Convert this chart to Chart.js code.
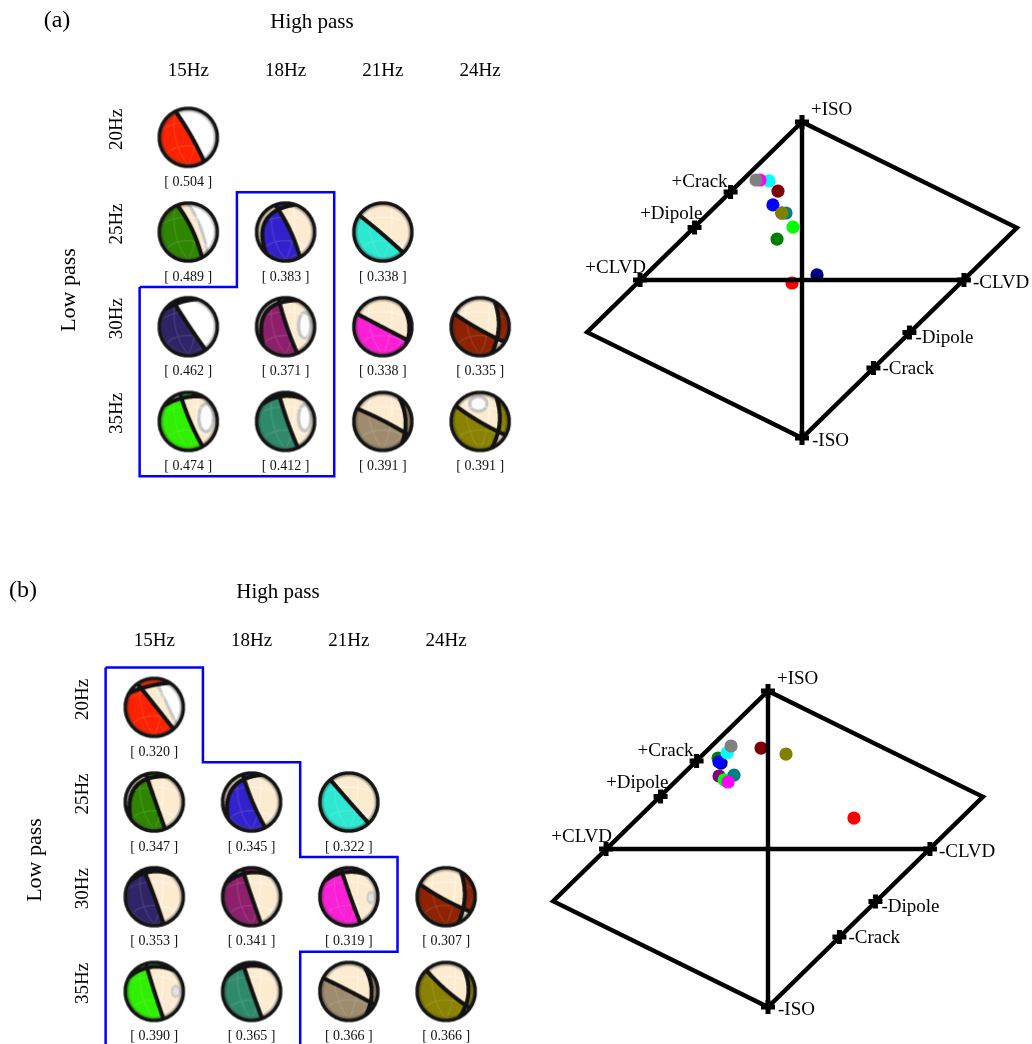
<!DOCTYPE html>
<html>
<head>
<meta charset="utf-8">
<script src="https://cdn.jsdelivr.net/npm/chart.js@4.4.1/dist/chart.umd.min.js"></script>
<style>
  html, body { margin: 0; padding: 0; overflow: hidden; background: #fff; width: 1032px; height: 1044px; }
  .panel { position: absolute; width: 1032px; height: 490px; }
  canvas { position: absolute; }
</style>
</head>
<body>
<div class="panel" style="left:0;top:0">
  <canvas id="gridA" width="540" height="490" style="left:0;top:0"></canvas>
  <canvas id="luneA" width="472" height="370" style="left:560px;top:90px"></canvas>
</div>
<div class="panel" style="left:-34px;top:570px">
  <canvas id="gridB" width="540" height="490" style="left:0;top:0"></canvas>
  <canvas id="luneB" width="472" height="370" style="left:560px;top:89px"></canvas>
</div>
<script>
// ---- filter grid ----
const highPass = ['15Hz', '18Hz', '21Hz', '24Hz'];
const lowPass = ['20Hz', '25Hz', '30Hz', '35Hz'];
const cellCol = [0, 0, 1, 2, 0, 1, 2, 3, 0, 1, 2, 3];
const cellRow = [0, 1, 1, 1, 2, 2, 2, 2, 3, 3, 3, 3];

// misfit of each inversion
const misfitA = [0.504, 0.489, 0.383, 0.338, 0.462, 0.371, 0.338, 0.335, 0.474, 0.412, 0.391, 0.391];
const misfitB = [0.320, 0.347, 0.345, 0.322, 0.353, 0.341, 0.319, 0.307, 0.390, 0.365, 0.366, 0.366];

// colours of each filter pair (sphere fill / lune marker)
const ballColors = ['#ff2200', '#2e8500', '#3322cc', '#2ee8d2', '#2f2468', '#8e1f6c',
                    '#fb1fd6', '#8f2200', '#2ef000', '#2f8a6b', '#9f8c6e', '#8a8200'];
const dotColors = ['#ff0000', '#008000', '#0000ff', '#00ffff', '#000080', '#800080',
                   '#ff00ff', '#800000', '#00ff00', '#008080', '#808080', '#808000'];

// radiation pattern outlines on the unit sphere view: nodal curves as
// [start, middle, end] points, ref = point inside the compressional lobe
const mechA = [
  { l1: [-0.44, -0.88, 0.12, 0.0, 0.54, 0.84], ref: [-0.5, 0.2], white: true },
  { l1: [-0.38, -0.91, 0.16, 0.0, 0.46, 0.89], ref: [-0.5, 0.2], arc: [0.0, -0.92, 0.4, -0.15, 0.62, 0.72], wref: [0.8, -0.2] },
  { l1: [-0.36, -0.91, 0.17, 0.0, 0.48, 0.88], l2: [-0.6, 0.78, -0.74, -0.1, 0.4, -0.9], ref: [-0.4, 0.3] },
  { l1: [-0.81, -0.58, 0.0, 0.08, 0.7, 0.71], ref: [-0.3, 0.5] },
  { l1: [-0.51, -0.86, 0.04, 0.0, 0.6, 0.8], l2: [-0.86, -0.5, -0.23, -0.8, 0.43, -0.9], ref: [-0.3, 0.4], white: true },
  { l1: [-0.24, -0.95, 0.04, 0.0, 0.4, 0.91], l2: [-0.7, 0.7, -0.76, -0.2, 0.5, -0.86], ref: [-0.4, 0.3], ell: [0.62, -0.04, 0.2, 0.42] },
  { l1: [-0.89, -0.45, 0.0, 0.02, 0.87, 0.47], l2: [0.5, -0.86, 0.86, 0.0, 0.7, 0.7], ref: [0.0, 0.5] },
  { l1: [-0.89, -0.46, 0.0, 0.1, 0.85, 0.52], l2: [0.44, -0.9, 0.6, 0.05, 0.33, 0.94], ref: [-0.3, 0.5] },
  { l1: [-0.28, -0.96, 0.06, 0.0, 0.5, 0.87], l2: [-0.89, -0.45, -0.33, -0.72, 0.61, -0.79], ref: [-0.3, 0.4], ell: [0.58, -0.12, 0.24, 0.45] },
  { l1: [-0.24, -0.97, 0.06, 0.0, 0.42, 0.9], l2: [-0.87, -0.48, -0.3, -0.78, 0.75, -0.66], ref: [-0.4, 0.3], ell: [0.62, -0.12, 0.2, 0.42] },
  { l1: [-0.9, -0.44, 0.0, -0.03, 0.88, 0.47], l2: [0.47, -0.88, 0.74, 0.05, 0.58, 0.81], ref: [-0.3, 0.5] },
  { l1: [-0.84, -0.54, 0.05, 0.05, 0.88, 0.47], l2: [0.5, -0.86, 0.63, 0.06, 0.33, 0.94], ref: [-0.4, 0.3], ell: [-0.06, -0.57, 0.28, 0.24] }
];
const mechB = [
  { l1: [-0.58, -0.81, 0.03, -0.05, 0.66, 0.75], l2: [-0.9, -0.43, -0.2, -0.68, 0.6, -0.8], ref: [-0.4, 0.4], arc: [0.05, -0.85, 0.32, -0.3, 0.72, 0.55], wref: [0.8, -0.2] },
  { l1: [-0.29, -0.96, 0.04, 0.0, 0.37, 0.93], l2: [-0.75, 0.66, -0.72, -0.3, 0.55, -0.83], ref: [-0.4, 0.3] },
  { l1: [-0.3, -0.95, 0.03, 0.0, 0.47, 0.88], l2: [-0.75, 0.66, -0.74, -0.2, 0.45, -0.89], ref: [-0.4, 0.3] },
  { l1: [-0.64, -0.77, 0.0, -0.03, 0.68, 0.73], ref: [-0.3, 0.5] },
  { l1: [-0.37, -0.93, 0.0, 0.0, 0.32, 0.95], l2: [-0.92, -0.39, -0.23, -0.79, 0.78, -0.63], ref: [-0.4, 0.3] },
  { l1: [-0.32, -0.95, 0.0, 0.0, 0.33, 0.94], l2: [-0.93, -0.37, -0.25, -0.75, 0.77, -0.64], ref: [-0.4, 0.3] },
  { l1: [-0.27, -0.96, 0.05, 0.0, 0.4, 0.92], l2: [-0.9, -0.44, -0.25, -0.77, 0.75, -0.66], ref: [-0.3, 0.4], blob: [0.72, 0.03, 0.15, 0.22] },
  { l1: [-0.9, -0.44, 0.0, 0.12, 0.86, 0.51], l2: [0.45, -0.89, 0.6, 0.05, 0.35, 0.94], ref: [-0.4, 0.4] },
  { l1: [-0.29, -0.96, 0.0, 0.0, 0.32, 0.95], l2: [-0.93, -0.37, -0.3, -0.75, 0.78, -0.62], ref: [-0.4, 0.3], blob: [0.7, 0.0, 0.16, 0.22] },
  { l1: [-0.3, -0.95, 0.02, 0.0, 0.36, 0.93], l2: [-0.93, -0.37, -0.3, -0.78, 0.75, -0.66], ref: [-0.4, 0.3] },
  { l1: [-0.89, -0.46, 0.0, -0.02, 0.89, 0.46], l2: [0.45, -0.89, 0.74, 0.05, 0.5, 0.87], ref: [-0.3, 0.5] },
  { l1: [-0.68, -0.73, 0.0, -0.04, 0.82, 0.57], l2: [0.5, -0.87, 0.72, 0.1, 0.35, 0.94], ref: [-0.4, 0.3] }
];

// preferred-solution outline, in grid cell units [column, row]
const outlineA = [[-0.5, 1.58], [0.5, 1.58], [0.5, 0.58], [1.5, 0.58], [1.5, 3.58], [-0.5, 3.58], [-0.5, 1.58]];
const outlineB = [[-0.5, -0.42], [0.5, -0.42], [0.5, 0.58], [1.5, 0.58], [1.5, 1.58], [2.5, 1.58],
                  [2.5, 2.58], [1.5, 2.58], [1.5, 3.58], [-0.5, 3.58], [-0.5, -0.42]];

// ---- source-type lune ----
const luneCornerX = [0, 1.36, 0, -1.36];
const luneCornerY = [1, 0.33, -1, -0.33];
const refNames = ['+ISO', '+Crack', '+Dipole', '+CLVD', '-CLVD', '-Dipole', '-Crack', '-ISO'];
const refX = [0, -0.452, -0.68, -1.025, 1.025, 0.68, 0.452, 0];
const refY = [1, 0.557, 0.332, 0, 0, -0.332, -0.557, -1];

const luneAx = [-0.063, -0.158, -0.184, -0.209, 0.095, -0.127, -0.266, -0.152, -0.057, -0.101, -0.291, -0.127];
const luneAy = [-0.019, 0.259, 0.475, 0.627, 0.032, 0.424, 0.633, 0.563, 0.335, 0.424, 0.633, 0.424];
const luneBx = [0.544, -0.316, -0.310, -0.259, -0.297, -0.310, -0.253, -0.044, -0.278, -0.215, -0.234, 0.114];
const luneBy = [0.196, 0.576, 0.551, 0.608, 0.544, 0.462, 0.424, 0.639, 0.437, 0.468, 0.652, 0.601];
const drawOrderA = [0, 1, 2, 3, 4, 5, 6, 7, 8, 9, 10, 11];
const drawOrderB = [0, 1, 4, 2, 3, 5, 8, 9, 6, 7, 10, 11];

const SERIF = "'Liberation Serif','Times New Roman',Times,serif";

// ---------- sphere rendering ----------
function bentCurve(p) {
  const [x1, y1, xm, ym, x2, y2] = p;
  const mx = (x1 + x2) / 2, my = (y1 + y2) / 2;
  let ex = x2 - x1, ey = y2 - y1;
  const half = Math.hypot(ex, ey) / 2;
  ex /= 2 * half; ey /= 2 * half;
  const nx = -ey, ny = ex;
  let sm = ((xm - mx) * ex + (ym - my) * ey) / half;
  sm = Math.max(-0.9, Math.min(0.9, sm));
  const hm = (xm - mx) * nx + (ym - my) * ny;
  const k = hm / (1 - sm * sm);
  return (u, v) => {
    const s = ((u - mx) * ex + (v - my) * ey) / half;
    const h = (u - mx) * nx + (v - my) * ny;
    const g = h - k * (1 - s * s);
    return [g, Math.abs(g) / Math.hypot(1, 2 * k * s / half)];
  };
}
function ellipseCurve(e) {
  const [cx, cy, rx, ry] = e;
  return (u, v) => {
    const dx = (u - cx) / rx, dy = (v - cy) / ry;
    const q = Math.hypot(dx, dy) || 1e-6;
    const g = q - 1;
    return [g, Math.abs(g) / Math.hypot(dx / (q * rx), dy / (q * ry))];
  };
}
function hexRgb(h) { const n = parseInt(h.slice(1), 16); return [n >> 16 & 255, n >> 8 & 255, n & 255]; }
function mix(a, b, t) { return [a[0] + (b[0] - a[0]) * t, a[1] + (b[1] - a[1]) * t, a[2] + (b[2] - a[2]) * t]; }

function renderBall(m, color) {
  const S = 64, C = 32, R = 30.8, N = 3;
  const cv = document.createElement('canvas');
  cv.width = S; cv.height = S;
  const c2 = cv.getContext('2d');
  const img = c2.createImageData(S, S);
  const d = img.data;
  const f1 = bentCurve(m.l1), f2 = m.l2 ? bentCurve(m.l2) : null;
  const fa = m.arc ? bentCurve(m.arc) : null;
  const fe = m.ell ? ellipseCurve(m.ell) : null;
  const fb = m.blob ? ellipseCurve(m.blob) : null;
  const sideOf = (u, v) => Math.sign(f1(u, v)[0] * (f2 ? f2(u, v)[0] : 1));
  const refS = sideOf(m.ref[0], m.ref[1]);
  const wS = fa ? Math.sign(fa(m.wref[0], m.wref[1])[0]) : 0;
  const base = hexRgb(color);
  const neg = m.white ? [255, 255, 255] : [253, 235, 208];
  const LW = 0.066, RING = 0.89;
  const ca = Math.cos(0.5), sa = Math.sin(0.5), cb = Math.cos(-0.3), sb = Math.sin(-0.3);
  const step = Math.PI / 4;
  for (let py = 0; py < S; py++) {
    for (let px = 0; px < S; px++) {
      let r = 0, g = 0, b = 0, a = 0;
      for (let sy = 0; sy < N; sy++) {
        for (let sx = 0; sx < N; sx++) {
          const u = (px + (sx + 0.5) / N - C) / R, v = (py + (sy + 0.5) / N - C) / R;
          const rr = Math.hypot(u, v);
          if (rr > 1) continue;
          let col;
          if (rr > RING) col = [20, 20, 20];
          else {
            const a1 = f1(u, v), a2 = f2 ? f2(u, v) : [1, 9];
            const on = Math.sign(a1[0] * a2[0]) === refS;
            col = on ? base : neg;
            if (!on) {
              if (fa) { const q = fa(u, v); if (Math.sign(q[0]) === wS) col = [255, 255, 255]; if (q[1] < 0.05) col = [200, 200, 200]; }
              if (fe) { const q = fe(u, v); if (q[0] < 0) col = [252, 252, 252]; if (q[1] < 0.055) col = [198, 198, 198]; }
              if (fb) { const q = fb(u, v); if (q[0] < 0) col = q[0] < -0.45 ? [228, 228, 228] : [205, 205, 205]; }
            }
            // faint graticule on the sphere
            const w = Math.sqrt(Math.max(0, 1 - rr * rr));
            const X = u, Y = -v, Z = w;
            const Y1 = Y * ca - Z * sa, Z1 = Y * sa + Z * ca;
            const X2 = X * cb + Z1 * sb, Z2 = -X * sb + Z1 * cb;
            const lat = Math.asin(Math.max(-1, Math.min(1, Y1)));
            const lon = Math.atan2(X2, Z2);
            const dlat = Math.abs(lat - Math.round(lat / step) * step);
            const dlon = Math.abs(lon - Math.round(lon / step) * step) * Math.cos(lat);
            if ((Math.abs(lat) < 1.3 && dlat < 0.022) || dlon < 0.022) col = mix(col, [255, 255, 255], on ? 0.12 : 0.5);
            if (rr > 0.8) col = mix(col, [40, 40, 40], Math.min(1, (rr - 0.8) / 0.09) * 0.5);
            if (a1[1] < LW || a2[1] < LW) col = [18, 18, 18];
          }
          r += col[0]; g += col[1]; b += col[2]; a += 1;
        }
      }
      const k = (py * S + px) * 4;
      if (a > 0) { d[k] = r / a; d[k + 1] = g / a; d[k + 2] = b / a; d[k + 3] = 255 * a / (N * N); }
    }
  }
  c2.putImageData(img, 0, 0);
  return cv;
}

// ---------- plugins ----------
const gridTextPlugin = {
  id: 'gridText',
  afterDraw(chart, args, o) {
    const { ctx, scales: { x, y } } = chart;
    ctx.save();
    ctx.fillStyle = '#000';
    ctx.textBaseline = 'alphabetic';
    ctx.textAlign = 'center';
    ctx.font = `24px ${SERIF}`;
    ctx.fillText(o.tag, 57, 27);
    ctx.font = `21px ${SERIF}`;
    ctx.fillText('High pass', 312, 28);
    ctx.font = `19px ${SERIF}`;
    highPass.forEach((t, i) => ctx.fillText(t, x.getPixelForValue(i), 76));
    lowPass.forEach((t, j) => {
      ctx.save();
      ctx.translate(121.5, y.getPixelForValue(j) - 8);
      ctx.rotate(-Math.PI / 2);
      ctx.fillText(t, 0, 0);
      ctx.restore();
    });
    ctx.font = `22px ${SERIF}`;
    ctx.save();
    ctx.translate(74.5, 290);
    ctx.rotate(-Math.PI / 2);
    ctx.fillText('Low pass', 0, 0);
    ctx.restore();
    ctx.font = `14px ${SERIF}`;
    ctx.fillStyle = '#111';
    o.values.forEach((v, i) => {
      ctx.fillText('[ ' + v.toFixed(3) + ' ]', x.getPixelForValue(cellCol[i]), y.getPixelForValue(cellRow[i]) + 48.5);
    });
    ctx.restore();
  }
};

const luneLabelPlugin = {
  id: 'luneLabels',
  afterDraw(chart) {
    const { ctx, scales: { x, y } } = chart;
    const place = [[9, -7, 'left'], [-3, -5, 'right'], [8, -9, 'right'], [6, -7, 'right'],
                   [9, 8, 'left'], [6, 11, 'left'], [9, 6, 'left'], [10, 8, 'left']];
    ctx.save();
    ctx.fillStyle = '#000';
    ctx.font = `19px ${SERIF}`;
    ctx.textBaseline = 'alphabetic';
    refNames.forEach((t, i) => {
      const [dx, dy, al] = place[i];
      ctx.textAlign = al;
      ctx.fillText(t, x.getPixelForValue(refX[i]) + dx, y.getPixelForValue(refY[i]) + dy);
    });
    ctx.restore();
  }
};

// ---------- charts ----------
const baseOptions = {
  responsive: false,
  devicePixelRatio: 1,
  animation: false,
  events: [],
  layout: { autoPadding: false, padding: 0 }
};

function gridChart(id, tag, values, mech, outline) {
  const styles = mech.map((m, i) => renderBall(m, ballColors[i]));
  return new Chart(document.getElementById(id), {
    type: 'scatter',
    data: {
      datasets: [
        {
          label: 'mechanisms',
          data: cellCol.map((c, i) => ({ x: c, y: cellRow[i] })),
          pointStyle: styles,
          pointRadius: 30,
          backgroundColor: 'rgba(0,0,0,0)',
          borderWidth: 0,
          order: 0
        },
        {
          label: 'preferred',
          data: outline.map(([cx, cy]) => ({ x: cx, y: cy })),
          showLine: true,
          borderColor: '#0000ff',
          borderWidth: 2.5,
          pointRadius: 0,
          fill: false,
          tension: 0,
          order: 1
        }
      ]
    },
    options: {
      ...baseOptions,
      plugins: { legend: { display: false }, tooltip: { enabled: false }, gridText: { tag, values } },
      scales: {
        x: { type: 'linear', min: -1.935, max: 3.615, display: false },
        y: { type: 'linear', min: -1.45, max: 3.724, reverse: true, display: false }
      }
    },
    plugins: [gridTextPlugin]
  });
}

function luneChart(id, xs, ys, drawOrder) {
  const c = (i) => ({ x: luneCornerX[i], y: luneCornerY[i] });
  const line = (data) => ({
    data, showLine: true, borderColor: '#000', borderWidth: 4.4, pointRadius: 0,
    fill: false, tension: 0, borderJoinStyle: 'miter', order: 0
  });
  return new Chart(document.getElementById(id), {
    type: 'scatter',
    data: {
      datasets: [
        line([c(0), c(1), c(2), c(3), c(0), c(1)]),
        line([c(0), c(2)]),
        line([{ x: refX[3], y: refY[3] }, { x: refX[4], y: refY[4] }]),
        {
          data: refX.map((v, i) => ({ x: v, y: refY[i] })),
          pointStyle: 'cross', pointRadius: 7, borderWidth: 5, borderColor: '#000',
          showLine: false, order: 1
        },
        {
          data: drawOrder.map(i => ({ x: xs[i], y: ys[i] })),
          pointStyle: 'circle', pointRadius: 6.6, borderWidth: 0,
          backgroundColor: drawOrder.map(i => dotColors[i]),
          showLine: false, order: 2
        }
      ]
    },
    options: {
      ...baseOptions,
      plugins: { legend: { display: false }, tooltip: { enabled: false } },
      scales: {
        x: { type: 'linear', min: -1.5316, max: 1.4557, display: false },
        y: { type: 'linear', min: -1.1392, max: 1.2025, display: false }
      }
    },
    plugins: [luneLabelPlugin]
  });
}

gridChart('gridA', '(a)', misfitA, mechA, outlineA);
gridChart('gridB', '(b)', misfitB, mechB, outlineB);
luneChart('luneA', luneAx, luneAy, drawOrderA);
luneChart('luneB', luneBx, luneBy, drawOrderB);
</script>
</body>
</html>
